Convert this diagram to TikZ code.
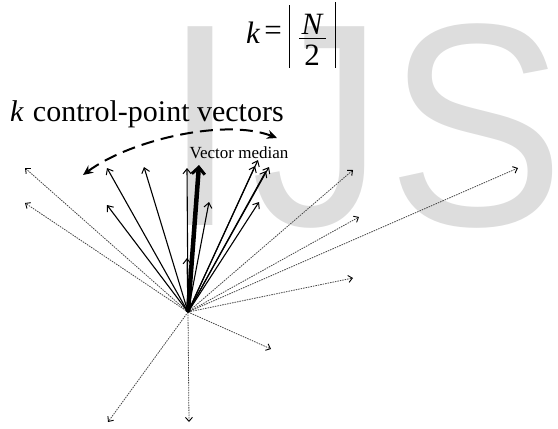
\documentclass[tikz,border=0pt]{standalone}
\usepackage{fontspec}
\setmainfont{Liberation Serif}
\newfontfamily\wmfont{Liberation Sans}
\usetikzlibrary{arrows.meta}
\definecolor{wm}{RGB}{221,221,221}
\definecolor{dotc}{RGB}{70,70,70}
\tikzset{
  x=1pt, y=-1pt,
  vsolid/.style={line width=1.1pt, -{Straight Barb[length=5pt,width=8pt,line width=1pt]}},
  vdot/.style={line width=0.8pt, dotc, dash pattern=on 1.5pt off 1pt, -{Straight Barb[length=4pt,width=7pt,line width=0.9pt,black]}},
  vthick/.style={line width=4.5pt, -{Straight Barb[length=7pt,width=13pt,line width=3pt]}},
  arcdash/.style={line width=2pt, dash pattern=on 13pt off 7pt, {Stealth[length=10pt,width=9pt]}-{Stealth[length=10pt,width=9pt]}},
  big/.style={font=\fontsize{31}{31}\selectfont, inner sep=0pt},
  wmletter/.style={anchor=base west, inner sep=0pt, xscale=0.92, text=wm, font=\wmfont\fontsize{289}{289}\selectfont},
}
\begin{document}
\begin{tikzpicture}
\useasboundingbox (0,0) rectangle (558,429);
% watermark
\node[wmletter] (wmI) at (163,225) {I};
\node[wmletter] (wmJ) at (251,225) {J};
\node[wmletter] (wmS) at (387,225) {S};
% formula
\node[big, font=\fontsize{31}{31}\selectfont\itshape] (kk) at (253,33) {k};
\node[big] (eq) at (273,33) {=};
\node[big, font=\fontsize{31}{31}\selectfont\itshape] (nn) at (312,24) {N};
\node[big, font=\fontsize{31}{31}\selectfont] (two) at (312,55) {2};
\coordinate (fl) at (299,38); \coordinate (fr) at (326,38);
\draw[line width=0.8pt] (fl) -- (fr);
\coordinate (lb1) at (289,5); \coordinate (lb2) at (289,68);
\coordinate (rb1) at (335,2); \coordinate (rb2) at (335,68);
\draw[line width=1pt] (lb1) -- (lb2);
\draw[line width=1pt] (rb1) -- (rb2);
% label
\node[anchor=base west, inner sep=0pt, font=\fontsize{30}{30}\selectfont] (lab) at (10,121) {\textit{k}\hspace{9pt}control-point vectors};
\node[inner sep=0pt, font=\fontsize{17}{17}\selectfont] (vm) at (239,153) {Vector median};
% arc
\coordinate (al) at (83,175); \coordinate (ar) at (277,138);
\draw[arcdash] (al) .. controls (130,140) and (225,118) .. (ar);
% origin
\coordinate (O) at (188,312);
% dotted vectors
\coordinate (d1) at (25,168);
\coordinate (d2) at (25,203);
\coordinate (d3) at (353,170);
\coordinate (d4) at (359,217);
\coordinate (d5) at (518,168);
\coordinate (d6) at (353,278);
\coordinate (d7) at (271,349);
\coordinate (d8) at (108,422);
\coordinate (d9) at (189,422);
\foreach \n in {d1,d2,d3,d4,d5,d6,d7,d8,d9} { \draw[vdot] (O) -- (\n); }
% solid vectors
\coordinate (s1) at (107,168);
\coordinate (s2) at (107,205);
\coordinate (s3) at (144,167);
\coordinate (s4) at (187,168);
\coordinate (s5) at (187,258);
\coordinate (s6) at (209,202);
\coordinate (s7) at (258,160);
\coordinate (s8) at (255,166);
\coordinate (s9) at (269,167);
\coordinate (s10) at (266,171);
\coordinate (s11) at (259,202);
\foreach \n in {s1,s2,s3,s4,s5,s6,s7,s8,s9,s10,s11} { \draw[vsolid] (O) -- (\n); }
% median
\coordinate (med) at (199,165);
\draw[vthick] (O) -- (med);
\end{tikzpicture}
\end{document}
